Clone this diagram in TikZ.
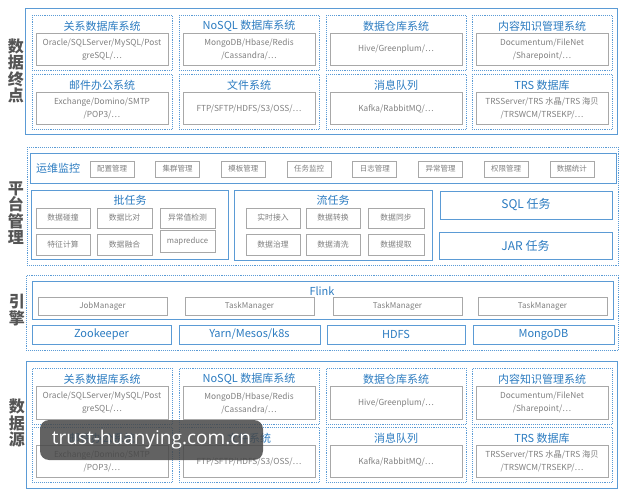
\documentclass[tikz,border=0pt]{standalone}
\usepackage{fontspec}
\setmainfont{Noto Sans CJK SC}
\newfontfamily\wmfont{Open Sans}
\definecolor{blueline}{HTML}{5B9BD5}
\definecolor{bluetitle}{HTML}{2B7BC0}
\definecolor{grayline}{HTML}{A8A8A8}
\definecolor{graytext}{HTML}{7F7F7F}
\definecolor{labelgray}{HTML}{555555}
\newcommand{\dgroup}[6]{%
  \node[dotbox, minimum width=140pt, minimum height=#4pt, anchor=north west] (#1) at (#2,#3) {};
  \node[ttl] (#1t) at (#2+70,#3+11) {#5};
  \node[graybox, minimum width=132pt, minimum height=#4pt-23pt, anchor=north] (#1g) at (#2+70,#3+18) {#6};
}
\begin{document}
\begin{tikzpicture}[x=1pt,y=-1pt,
  secbox/.style={draw=blueline, line width=1pt, inner sep=0pt},
  dotbox/.style={draw=blueline, densely dotted, line width=0.9pt, inner sep=0pt},
  bluebox/.style={draw=blueline, line width=0.9pt, inner sep=0pt, text=bluetitle, font=\fontsize{11}{13}\selectfont},
  graybox/.style={draw=grayline, line width=0.9pt, inner sep=0pt, text=graytext, align=center, font=\fontsize{8.3}{13}\selectfont},
  smallbox/.style={draw=grayline, line width=0.8pt, inner sep=0pt, text=graytext, font=\fontsize{7.5}{9}\selectfont},
  mgrbox/.style={draw=grayline, line width=0.9pt, inner sep=0pt, text=graytext, font=\fontsize{8}{9}\selectfont},
  midbox/.style={draw=grayline, line width=0.8pt, inner sep=0pt, text=graytext, font=\fontsize{7.8}{9}\selectfont},
  ttl/.style={text=bluetitle, inner sep=0pt, font=\fontsize{11}{13}\selectfont},
  seclabel/.style={text=labelgray, align=center, inner sep=0pt, font=\bfseries\fontsize{16}{16.5}\selectfont}
]
\useasboundingbox (0,0) rectangle (630,500);

% ===== 数据终点 =====
\node[secbox, minimum width=592pt, minimum height=126pt, anchor=north west] (endp) at (25,8) {};
\node[seclabel] (endplbl) at (16,71) {数\\据\\终\\点};
\dgroup{e1}{32}{15}{55}{关系数据库系统}{Oracle/SQLServer/MySQL/Post\\greSQL/…}
\dgroup{e2}{179}{15}{55}{NoSQL 数据库系统}{MongoDB/Hbase/Redis\\/Cassandra/…}
\dgroup{e3}{326}{15}{55}{数据仓库系统}{Hive/Greenplum/…}
\dgroup{e4}{472}{15}{55}{内容知识管理系统}{Documentum/FileNet\\/Sharepoint/…}
\dgroup{e5}{32}{74}{55}{邮件办公系统}{Exchange/Domino/SMTP\\/POP3/…}
\dgroup{e6}{179}{74}{55}{文件系统}{FTP/SFTP/HDFS/S3/OSS/…}
\dgroup{e7}{326}{74}{55}{消息队列}{Kafka/RabbitMQ/…}
\dgroup{e8}{472}{74}{55}{TRS 数据库}{TRSServer/TRS 水晶/TRS 海贝\\/TRSWCM/TRSEKP/…}

% ===== 平台管理 =====
\node[dotbox, minimum width=591pt, minimum height=118pt, anchor=north west] (plat) at (27,147) {};
\node[seclabel] (platlbl) at (16,213) {平\\台\\管\\理};
\node[secbox, minimum width=586pt, minimum height=30pt, anchor=north west] (ops) at (30,153) {};
\node[ttl] (opst) at (58,168) {运维监控};
\foreach \t [count=\i from 0] in {配置管理,集群管理,模板管理,任务监控,日志管理,异常管理,权限管理,数据统计}{
  \node[smallbox, minimum width=44pt, minimum height=16pt] (ops\i) at (112+65.7*\i,169) {\t};
}
% 批任务
\node[secbox, minimum width=197pt, minimum height=69pt, anchor=north west] (batch) at (31,190) {};
\node[ttl] (batcht) at (130,200) {批任务};
\node[midbox, minimum width=54pt, minimum height=20pt] (b1) at (63,218) {数据碰撞};
\node[midbox, minimum width=55pt, minimum height=20pt] (b2) at (124.5,218) {数据比对};
\node[midbox, minimum width=55pt, minimum height=20pt] (b3) at (187.5,218) {异常值检测};
\node[midbox, minimum width=54pt, minimum height=21pt] (b4) at (63,244.5) {特征计算};
\node[midbox, minimum width=55pt, minimum height=21pt] (b5) at (124.5,244.5) {数据融合};
\node[midbox, minimum width=55pt, minimum height=22pt] (b6) at (187.5,241) {mapreduce};
% 流任务
\node[secbox, minimum width=198pt, minimum height=70pt, anchor=north west] (stream) at (234,190) {};
\node[ttl] (streamt) at (333,200) {流任务};
\node[midbox, minimum width=54pt, minimum height=20pt] (s1) at (273,218) {实时接入};
\node[midbox, minimum width=54pt, minimum height=20pt] (s2) at (333,218) {数据转换};
\node[midbox, minimum width=56pt, minimum height=20pt] (s3) at (396,218) {数据同步};
\node[midbox, minimum width=54pt, minimum height=21pt] (s4) at (273,244.5) {数据治理};
\node[midbox, minimum width=54pt, minimum height=21pt] (s5) at (333,244.5) {数据清洗};
\node[midbox, minimum width=56pt, minimum height=21pt] (s6) at (396,244.5) {数据提取};
% SQL / JAR
\node[bluebox, minimum width=172pt, minimum height=28pt, font=\fontsize{12}{14}\selectfont] (sql) at (526,205) {SQL 任务};
\node[bluebox, minimum width=173pt, minimum height=27pt, font=\fontsize{12}{14}\selectfont] (jar) at (525.5,245.5) {JAR 任务};

% ===== 引擎 =====
\node[dotbox, minimum width=592pt, minimum height=75pt, anchor=north west] (eng) at (26,275) {};
\node[seclabel] (englbl) at (17,310) {引\\擎};
\node[secbox, minimum width=581pt, minimum height=38pt, anchor=north west] (flink) at (32,281) {};
\node[ttl] (flinkt) at (322,291) {Flink};
\node[mgrbox, minimum width=129pt, minimum height=18pt] (jm) at (102.5,306) {JobManager};
\node[mgrbox, minimum width=129pt, minimum height=18pt] (tm1) at (249.5,306) {TaskManager};
\node[mgrbox, minimum width=129pt, minimum height=18pt] (tm2) at (397.5,306) {TaskManager};
\node[mgrbox, minimum width=129pt, minimum height=18pt] (tm3) at (542.5,306) {TaskManager};
\node[bluebox, minimum width=139pt, minimum height=19pt] (zk) at (101.5,334.5) {Zookeeper};
\node[bluebox, minimum width=141pt, minimum height=19pt] (yarn) at (249.5,334.5) {Yarn/Mesos/k8s};
\node[bluebox, minimum width=138pt, minimum height=19pt] (hdfs) at (396,334.5) {HDFS};
\node[bluebox, minimum width=141pt, minimum height=19pt] (mongo) at (543.5,334.5) {MongoDB};

% ===== 数据源 =====
\node[secbox, minimum width=591pt, minimum height=127pt, anchor=north west] (src) at (26,361) {};
\node[seclabel] (srclbl) at (17,423) {数\\据\\源};
\dgroup{d1}{32}{368}{56}{关系数据库系统}{Oracle/SQLServer/MySQL/Post\\greSQL/…}
\dgroup{d2}{179}{368}{56}{NoSQL 数据库系统}{MongoDB/Hbase/Redis\\/Cassandra/…}
\dgroup{d3}{326}{368}{56}{数据仓库系统}{Hive/Greenplum/…}
\dgroup{d4}{472}{368}{56}{内容知识管理系统}{Documentum/FileNet\\/Sharepoint/…}
\dgroup{d5}{32}{427}{55}{邮件办公系统}{Exchange/Domino/SMTP\\/POP3/…}
\dgroup{d6}{179}{427}{55}{文件系统}{FTP/SFTP/HDFS/S3/OSS/…}
\dgroup{d7}{326}{427}{55}{消息队列}{Kafka/RabbitMQ/…}
\dgroup{d8}{472}{427}{55}{TRS 数据库}{TRSServer/TRS 水晶/TRS 海贝\\/TRSWCM/TRSEKP/…}

% watermark
\node[fill=black!72, fill opacity=0.85, text opacity=1, text=white, rounded corners=9pt,
  minimum width=223pt, minimum height=40pt, inner sep=0pt, font=\wmfont\fontsize{19}{21}\selectfont] (wm) at (151.5,440) {trust-huanying.com.cn};
\end{tikzpicture}
\end{document}
